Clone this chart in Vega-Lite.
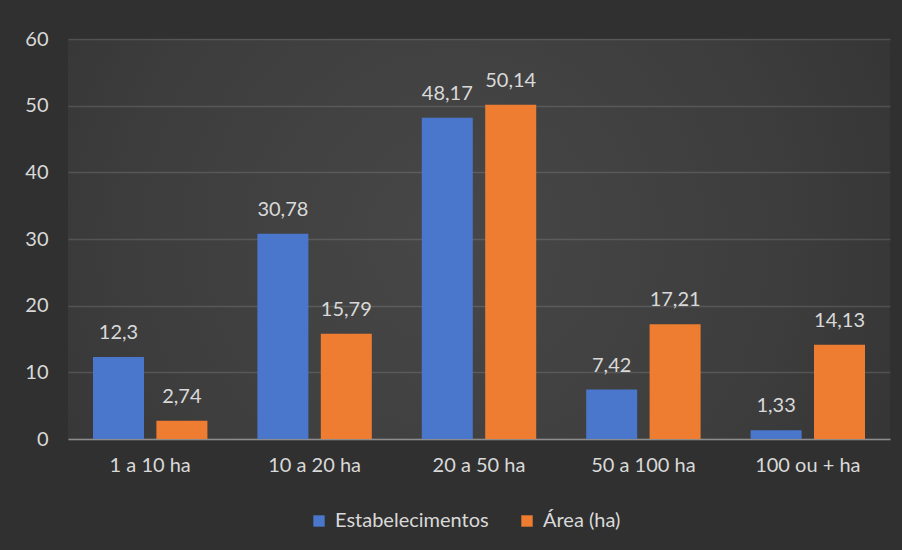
{
  "$schema": "https://vega.github.io/schema/vega-lite/v6.json",
  "width": 822,
  "height": 400,
  "autosize": {"type": "none"},
  "padding": {"left": 68, "top": 39, "right": 12, "bottom": 111},
  "background": "#303030",
  "config": {
    "font": "Lato",
    "locale": {
      "number": {"decimal": ",", "thousands": ".", "grouping": [3], "currency": ["", ""]}
    },
    "view": {
      "stroke": null,
      "fill": {
        "gradient": "radial",
        "x1": 0.47, "y1": 0.5, "r1": 0,
        "x2": 0.47, "y2": 0.5, "r2": 0.72,
        "stops": [
          {"offset": 0, "color": "#474747"},
          {"offset": 0.55, "color": "#3d3d3d"},
          {"offset": 1, "color": "#303030"}
        ]
      }
    }
  },
  "data": {
    "values": [
      {"faixa": "1 a 10 ha", "serie": "Estabelecimentos", "valor": 12.3},
      {"faixa": "1 a 10 ha", "serie": "Área (ha)", "valor": 2.74},
      {"faixa": "10 a 20 ha", "serie": "Estabelecimentos", "valor": 30.78},
      {"faixa": "10 a 20 ha", "serie": "Área (ha)", "valor": 15.79},
      {"faixa": "20 a 50 ha", "serie": "Estabelecimentos", "valor": 48.17},
      {"faixa": "20 a 50 ha", "serie": "Área (ha)", "valor": 50.14},
      {"faixa": "50 a 100 ha", "serie": "Estabelecimentos", "valor": 7.42},
      {"faixa": "50 a 100 ha", "serie": "Área (ha)", "valor": 17.21},
      {"faixa": "100 ou + ha", "serie": "Estabelecimentos", "valor": 1.33},
      {"faixa": "100 ou + ha", "serie": "Área (ha)", "valor": 14.13}
    ]
  },
  "encoding": {
    "x": {
      "field": "faixa",
      "type": "nominal",
      "sort": ["1 a 10 ha", "10 a 20 ha", "20 a 50 ha", "50 a 100 ha", "100 ou + ha"],
      "scale": {"paddingInner": 0.304, "paddingOuter": 0.152},
      "axis": {
        "title": null,
        "labelAngle": 0,
        "labelFontSize": 20,
        "labelColor": "#d9d9d9",
        "labelPadding": 16,
        "ticks": false,
        "grid": false,
        "domainColor": "#8c8c8c",
        "domainWidth": 1.5
      }
    },
    "xOffset": {
      "field": "serie",
      "type": "nominal",
      "sort": ["Estabelecimentos", "Área (ha)"],
      "scale": {"paddingInner": 0.1956, "paddingOuter": 0}
    },
    "y": {
      "field": "valor",
      "type": "quantitative",
      "scale": {"domain": [0, 60]},
      "axis": {
        "title": null,
        "values": [0, 10, 20, 30, 40, 50, 60],
        "labelFontSize": 20,
        "labelColor": "#d9d9d9",
        "labelPadding": 20,
        "ticks": false,
        "domain": false,
        "gridColor": "#ffffff",
        "gridOpacity": 0.13,
        "gridWidth": 1.5
      }
    }
  },
  "layer": [
    {
      "mark": {"type": "bar"},
      "encoding": {
        "color": {
          "field": "serie",
          "type": "nominal",
          "scale": {
            "domain": ["Estabelecimentos", "Área (ha)"],
            "range": ["#4a77cb", "#ee7d31"]
          },
          "legend": {
            "title": null,
            "orient": "none",
            "direction": "horizontal",
            "legendX": 241,
            "legendY": 472,
            "symbolType": "square",
            "symbolSize": 130,
            "symbolStrokeWidth": 0,
            "labelFontSize": 20,
            "labelColor": "#d9d9d9",
            "labelOffset": 6,
            "columnPadding": 28
          }
        }
      }
    },
    {
      "mark": {"type": "text", "baseline": "alphabetic", "dy": -18, "fontSize": 20, "color": "#d9d9d9"},
      "encoding": {
        "text": {"field": "valor", "type": "quantitative", "format": "~g"}
      }
    }
  ]
}
